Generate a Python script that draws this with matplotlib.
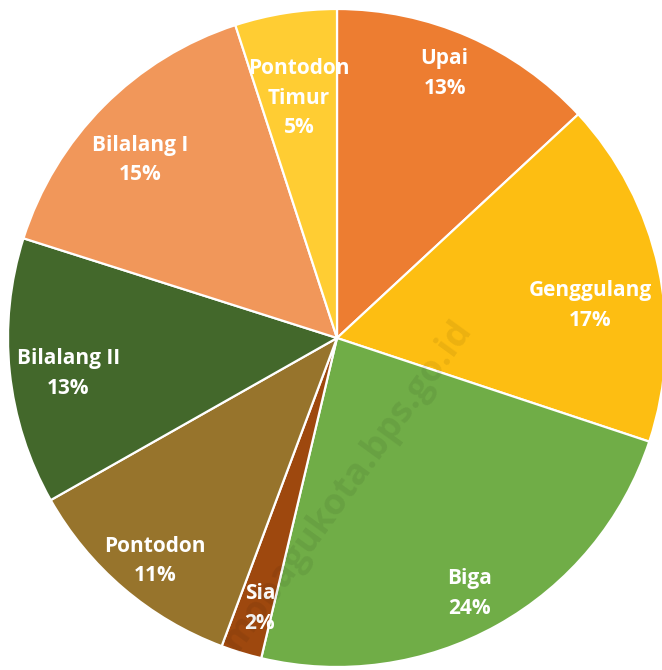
import numpy as np
import matplotlib.pyplot as plt

# ── Data ──────────────────────────────────────────────────────────────────────
desa   = ["Upai", "Genggulang", "Biga", "Sia", "Pontodon",
          "Bilalang II", "Bilalang I", "Pontodon\nTimur"]
persen = [13.1, 17.0, 23.6, 2.0, 11.1, 13.1, 15.1, 5.0]

# ── Style ─────────────────────────────────────────────────────────────────────
warna = ["#ED7D31", "#FDBE12", "#70AD47", "#9E480E",
         "#97742C", "#43682B", "#F1975A", "#FFCD33"]
jarak_label = [0.867, 0.775, 0.875, 0.854, 0.875, 0.824, 0.807, 0.738]
geser_sudut = [1.4, -5.0, -1.7, 1.0, 1.3, 1.5, 2.7, 0.0]   # deg, + = counter-clockwise

W, H = 662, 670
R_PX = 329
CX, CY = 337, 338   # pie centre, pixels from top-left

fig = plt.figure(figsize=(W / 100, H / 100), dpi=100)
ax = fig.add_axes([0, 0, 1, 1])

wedges, _ = ax.pie(persen, colors=warna, startangle=90, counterclock=False,
                   radius=1.0,
                   wedgeprops=dict(edgecolor="white", linewidth=1.6))

ax.set_aspect("auto")
xmin = -CX / R_PX
ymin = -(H - CY) / R_PX
ax.set_xlim(xmin, xmin + W / R_PX)
ax.set_ylim(ymin, ymin + H / R_PX)
ax.axis("off")

total = sum(persen)
for w, nama, p, d, g in zip(wedges, desa, persen, jarak_label, geser_sudut):
    ang = np.radians((w.theta1 + w.theta2) / 2 + g)
    x, y = d * np.cos(ang), d * np.sin(ang)
    ax.text(x, y, f"{nama}\n{round(p / total * 100):.0f}%", ha="center", va="center",
            color="white", fontsize=15, fontweight="bold", family="Open Sans",
            linespacing=1.55)

# faint watermark
ax.text(0.03, -0.45, "mobagukota.bps.go.id", rotation=54, ha="center", va="center",
        fontsize=26, fontweight="bold", family="Open Sans",
        color="#000000", alpha=0.07)

fig.savefig("out.png", dpi=100)
